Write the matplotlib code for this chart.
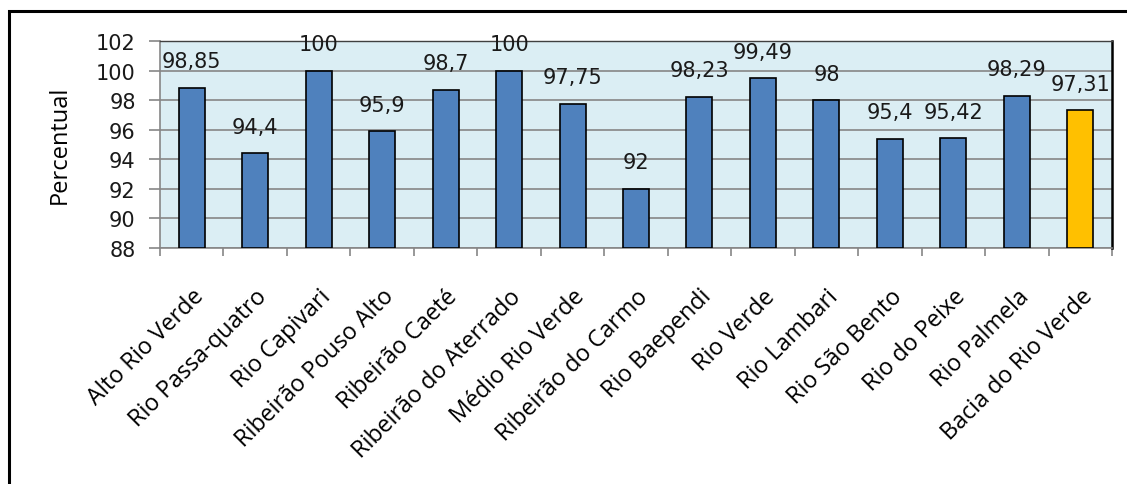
import matplotlib
matplotlib.use("Agg")
import matplotlib.pyplot as plt
from matplotlib.patches import Rectangle
import numpy as np

categories = [
    "Alto Rio Verde", "Rio Passa-quatro", "Rio Capivari", "Ribeirão Pouso Alto",
    "Ribeirão Caeté", "Ribeirão do Aterrado", "Médio Rio Verde", "Ribeirão do Carmo",
    "Rio Baependi", "Rio Verde", "Rio Lambari", "Rio São Bento", "Rio do Peixe",
    "Rio Palmela", "Bacia do Rio Verde",
]
values = [98.85, 94.4, 100, 95.9, 98.7, 100, 97.75, 92, 98.23, 99.49, 98, 95.4, 95.42, 98.29, 97.31]
value_labels = ["98,85", "94,4", "100", "95,9", "98,7", "100", "97,75", "92",
                "98,23", "99,49", "98", "95,4", "95,42", "98,29", "97,31"]
y_ticks = [88, 90, 92, 94, 96, 98, 100, 102]

BLUE = "#4F81BD"
GOLD = "#FFC000"
PLOT_BG = "#DBEEF4"
GRID = "#868686"

W, H = 1127, 485
fig = plt.figure(figsize=(W / 100, H / 100), dpi=100)

# outer frame of the chart
fig.patches.append(Rectangle((9 / W, -0.05), 1.2, 1 - 12 / H + 0.05,
                             transform=fig.transFigure, fill=False,
                             edgecolor="black", linewidth=2.2))

ax = fig.add_axes([160 / W, 1 - 249 / H, (1112 - 160) / W, (249 - 42) / H])
ax.set_facecolor(PLOT_BG)

x = np.arange(len(categories))
colors = [BLUE] * (len(categories) - 1) + [GOLD]
ax.bar(x, [v - 88 for v in values], bottom=88, width=0.41, color=colors,
       edgecolor="black", linewidth=1.2, zorder=3)

ax.set_xlim(-0.5, len(categories) - 0.5)
ax.set_ylim(88, 102)
ax.set_yticks(y_ticks)
ax.set_yticklabels([str(t) for t in y_ticks], fontsize=15, family="DejaVu Sans",
                   color="#1a1a1a")
ax.yaxis.grid(True, color=GRID, linewidth=1.2, zorder=1)
ax.set_axisbelow(True)

ax.set_xticks(x)
ax.set_xticklabels(categories, rotation=45, ha="right", va="top",
                   rotation_mode="anchor", fontsize=16.8, family="Open Sans")
ax.tick_params(axis="x", which="major", length=0, pad=26)
ax.set_xticks(np.arange(-0.5, len(categories)), minor=True)
ax.tick_params(axis="x", which="minor", length=6, width=1.2, color=GRID, direction="out")
ax.tick_params(axis="y", length=8, width=1.2, color=GRID, pad=9.5)

for side in ("left", "bottom"):
    ax.spines[side].set_color(GRID)
    ax.spines[side].set_linewidth(1.2)
ax.spines["top"].set_color("#404040")
ax.spines["top"].set_linewidth(1.0)
ax.spines["right"].set_color("black")
ax.spines["right"].set_linewidth(1.8)

for xi, v, lab in zip(x, values, value_labels):
    ax.annotate(lab, (xi, v), xytext=(0, 19), textcoords="offset points",
                ha="center", va="center", fontsize=15, family="DejaVu Sans",
                color="#1a1a1a", annotation_clip=False, zorder=4)

fig.text(60 / W, 1 - 145 / H, "Percentual", rotation=90, ha="center", va="center",
         fontsize=17, family="Open Sans")

fig.savefig("out.png", dpi=100)
